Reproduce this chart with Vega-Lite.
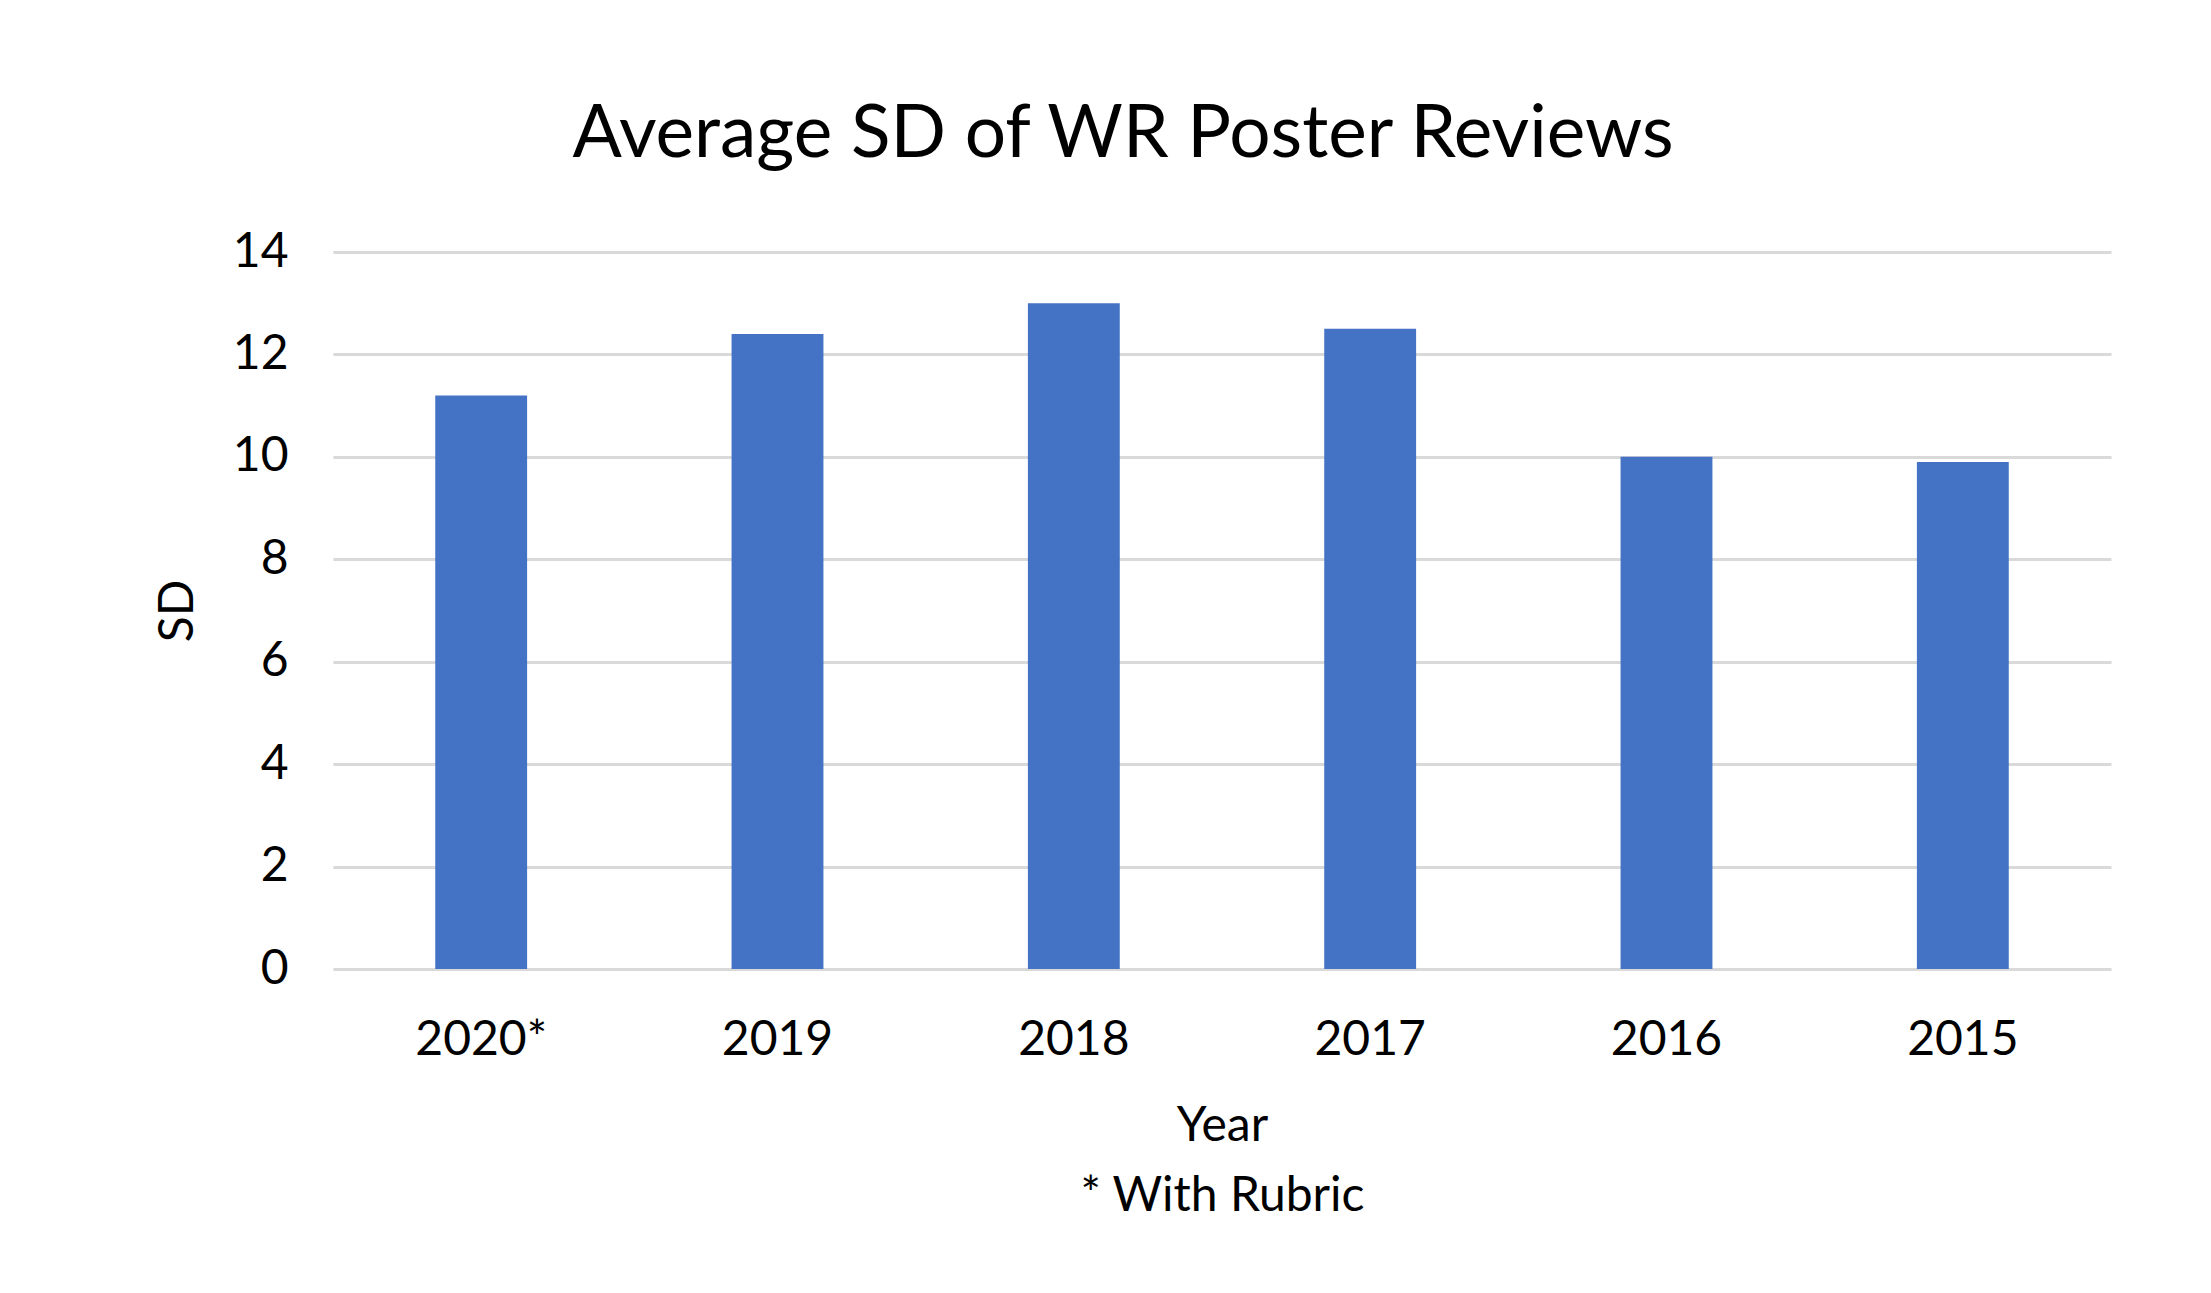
{
  "$schema": "https://vega.github.io/schema/vega-lite/v6.json",
  "autosize": "none",
  "padding": {"left": 333, "top": 252, "right": 100, "bottom": 324},
  "width": 1778,
  "height": 717,
  "background": "white",
  "title": {
    "text": "Average SD of WR Poster Reviews",
    "font": "Lato",
    "fontSize": 73,
    "fontWeight": "normal",
    "color": "#000000",
    "anchor": "middle",
    "frame": "group",
    "baseline": "alphabetic",
    "dx": -99,
    "dy": 62,
    "offset": 60
  },
  "data": {
    "values": [
      {"Year": "2020*", "SD": 11.2},
      {"Year": "2019", "SD": 12.4},
      {"Year": "2018", "SD": 13.0},
      {"Year": "2017", "SD": 12.5},
      {"Year": "2016", "SD": 10.0},
      {"Year": "2015", "SD": 9.9}
    ]
  },
  "mark": {"type": "bar", "color": "#4472C4"},
  "encoding": {
    "x": {
      "field": "Year",
      "type": "nominal",
      "sort": null,
      "scale": {"paddingInner": 0.69, "paddingOuter": 0.345},
      "axis": {
        "title": ["Year", "* With Rubric"],
        "titleFont": "Lato",
        "titleFontSize": 48,
        "titleFontWeight": "normal",
        "titleColor": "#000000",
        "titleLineHeight": 70,
        "titlePadding": 38,
        "labelFont": "Lato",
        "labelFontSize": 48,
        "labelColor": "#000000",
        "labelAngle": 0,
        "labelPadding": 47,
        "ticks": false,
        "domain": false,
        "grid": false
      }
    },
    "y": {
      "field": "SD",
      "type": "quantitative",
      "scale": {"domain": [0, 14], "nice": false},
      "axis": {
        "values": [0, 2, 4, 6, 8, 10, 12, 14],
        "title": "SD",
        "titleFont": "Lato",
        "titleFontSize": 48,
        "titleFontWeight": "normal",
        "titleColor": "#000000",
        "titlePadding": 30,
        "labelFont": "Lato",
        "labelFontSize": 48,
        "labelColor": "#000000",
        "labelPadding": 45,
        "ticks": false,
        "domain": false,
        "grid": true,
        "gridColor": "#D9D9D9",
        "gridWidth": 3
      }
    }
  },
  "config": {
    "view": {"stroke": null}
  }
}
